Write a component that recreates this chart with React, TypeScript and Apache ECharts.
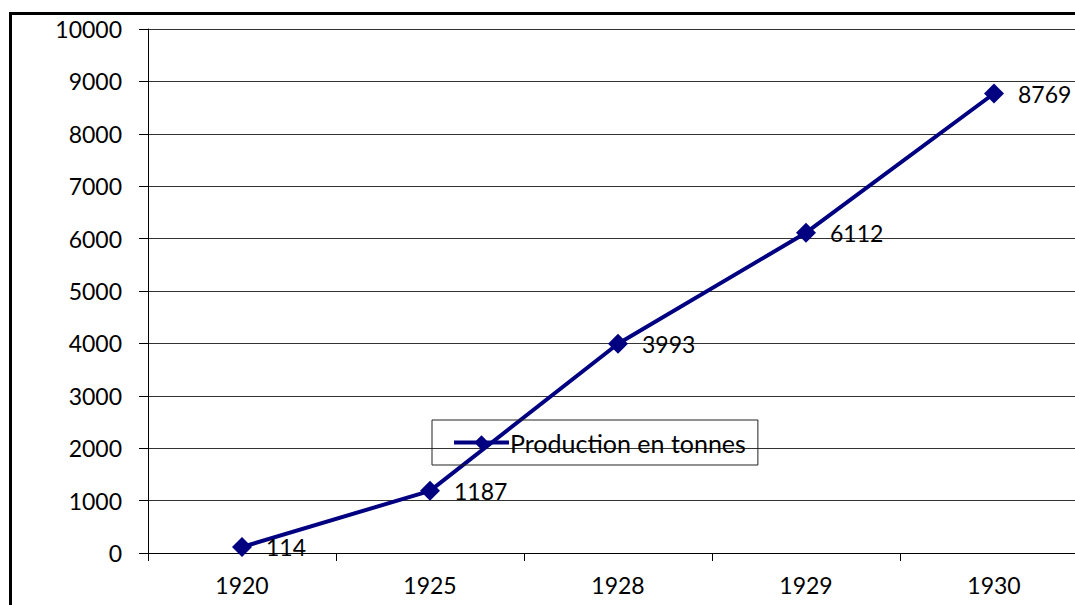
import React, { useEffect, useRef } from "react";
import * as echarts from "echarts";

const categories = ["1920", "1925", "1928", "1929", "1930"];
const production = [114, 1187, 3993, 6112, 8769];
const seriesName = "Production en tonnes";

export default function App() {
  const ref = useRef<HTMLDivElement>(null);
  useEffect(() => {
    if (!ref.current) return;
    const chart = echarts.init(ref.current, null, { renderer: "svg" });
    const font = "Lato, 'Open Sans', sans-serif";
    chart.setOption({
      animation: false,
      backgroundColor: "transparent",
      textStyle: { fontFamily: font },
      grid: { left: 148, top: 29, right: 12, bottom: 52, containLabel: false },
      legend: {
        left: 432,
        top: 420,
        padding: [10, 12, 10, 20],
        borderColor: "#222",
        borderWidth: 1,
        itemWidth: 55,
        itemHeight: 18,
        lineStyle: { width: 4 },
        textStyle: { fontSize: 25, color: "#000", fontFamily: font, padding: [0, 0, 0, -4] },
        data: [seriesName],
      },
      xAxis: {
        type: "category",
        data: categories,
        boundaryGap: true,
        axisLine: { lineStyle: { color: "#000", width: 1 } },
        axisTick: { show: true, length: 8, interval: 0, lineStyle: { color: "#000" } },
        axisLabel: { fontSize: 23, color: "#000", margin: 20, fontFamily: font },
        splitLine: { show: false },
      },
      yAxis: {
        type: "value",
        min: 0,
        max: 10000,
        interval: 1000,
        axisLine: { show: true, lineStyle: { color: "#000", width: 1 } },
        axisTick: { show: true, length: 9, lineStyle: { color: "#000" } },
        axisLabel: {
          fontSize: 23,
          color: "#000",
          margin: 26,
          fontFamily: font,
          formatter: (v: number) => String(v),
        },
        splitLine: { show: true, lineStyle: { color: "#333", width: 1 } },
      },
      series: [
        {
          name: seriesName,
          type: "line",
          data: production,
          symbol: "diamond",
          symbolSize: 20,
          itemStyle: { color: "#000080" },
          lineStyle: { color: "#000080", width: 4 },
          label: {
            show: true,
            position: "right",
            distance: 14,
            fontSize: 23,
            color: "#000",
            fontFamily: font,
          },
          z: 3,
        },
      ],
    });
    return () => chart.dispose();
  }, []);
  return (
    <div
      style={{
        position: "fixed",
        left: 0,
        top: 0,
        width: 1075,
        height: 605,
        overflow: "hidden",
        background: "#fff",
      }}
    >
      <div
        style={{
          position: "absolute",
          left: 9,
          top: 12,
          width: 1200,
          height: 800,
          borderTop: "3px solid #000",
          borderLeft: "3px solid #000",
          boxSizing: "border-box",
        }}
      />
      <div ref={ref} style={{ position: "absolute", left: 0, top: 0, width: 1100, height: 605 }} />
    </div>
  );
}
